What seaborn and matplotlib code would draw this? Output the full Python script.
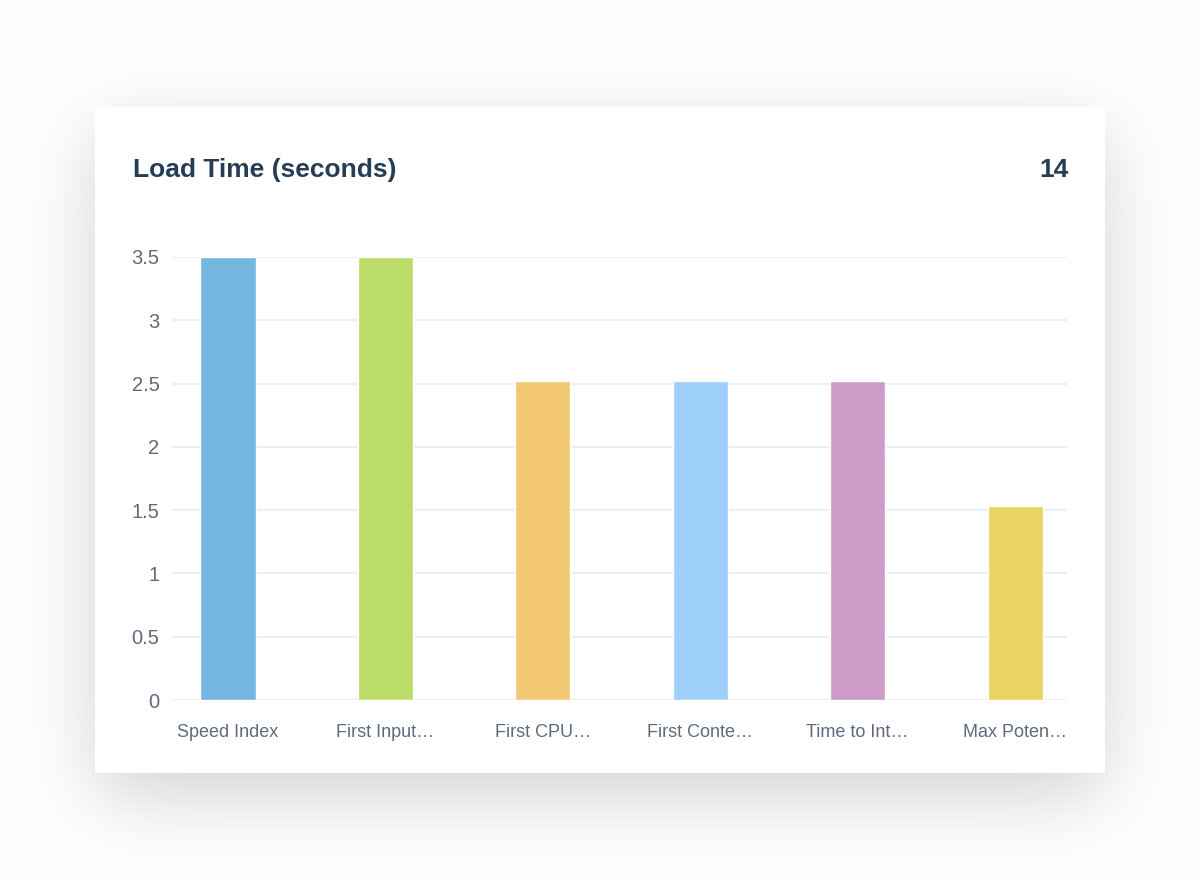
import math
import numpy as np
import pandas as pd
import matplotlib
matplotlib.use("Agg")
import matplotlib.pyplot as plt
from matplotlib.patches import FancyBboxPatch
import seaborn as sns

# ---- data ----
categories = ["Speed Index", "First Input…", "First CPU…", "First Conte…",
              "Time to Int…", "Max Poten…"]
values = [3.5, 3.5, 2.52, 2.52, 2.52, 1.53]
yticks = [0, 0.5, 1, 1.5, 2, 2.5, 3, 3.5]
ytick_labels = ["0", "0.5", "1", "1.5", "2", "2.5", "3", "3.5"]
title = "Load Time (seconds)"
total_label = "14"
palette = ["#74B6E0", "#BCDC6A", "#F2C772", "#9ED0FB", "#CF9BC8", "#E9D362"]

sns.set_theme(style="white")
plt.rcParams["font.family"] = ["Liberation Sans", "DejaVu Sans"]

W, H = 1200, 880
fig = plt.figure(figsize=(W / 100, H / 100), dpi=100, facecolor="white")

# ---- soft shadow behind the card ----
bg = fig.add_axes([0, 0, 1, 1], zorder=0)
bg.set_axis_off()
erf = np.vectorize(math.erf)
xs = np.arange(W) + 0.5
ys = np.arange(H) + 0.5
cx0, cx1, cy0, cy1 = 95, 1105, 107 + 24, 773 + 24
s = 38.0
fx = 0.5 * (erf((xs - cx0) / (s * math.sqrt(2))) - erf((xs - cx1) / (s * math.sqrt(2))))
fy = 0.5 * (erf((ys - cy0) / (s * math.sqrt(2))) - erf((ys - cy1) / (s * math.sqrt(2))))
shadow = np.outer(fy, fx) * 0.17
img = np.ones((H, W, 3)) * (1 - shadow[..., None])
bg.imshow(img, extent=[0, W, H, 0], aspect="auto", interpolation="bilinear")
bg.set_xlim(0, W)
bg.set_ylim(H, 0)

card = FancyBboxPatch((95 / W, 1 - 773 / H), (1105 - 95) / W, (773 - 107) / H,
                      boxstyle="round,pad=0,rounding_size=0.002",
                      transform=fig.transFigure, facecolor="white",
                      edgecolor="none", zorder=1)
fig.patches.append(card)

# ---- chart ----
ax = fig.add_axes([172 / W, 1 - 700 / H, (1067 - 172) / W, (700 - 257) / H], zorder=2)
ax.set_facecolor("none")
df = pd.DataFrame({"metric": categories, "value": values})
sns.barplot(data=df, x="metric", y="value", hue="metric", palette=palette,
            legend=False, width=0.35, saturation=1, ax=ax, zorder=3)

ax.set_ylim(0, 3.5)
ax.set_xlim(-0.356, 5.33)
ax.set_yticks(yticks)
ax.set_yticklabels(ytick_labels)
ax.set_xlabel("")
ax.set_ylabel("")
for sp in ax.spines.values():
    sp.set_visible(False)
ax.grid(axis="y", color="#EDEDF2", linewidth=1.5, zorder=0)
ax.set_axisbelow(True)
ax.tick_params(axis="y", length=0, pad=9, labelsize=14.5, labelcolor="#5F6B7A")
ax.tick_params(axis="x", length=0, pad=17, labelsize=13, labelcolor="#5F6B7A")

fig.text(133 / W, 1 - 170 / H, title, fontsize=19, fontweight="bold",
         color="#253D55", ha="left", va="center", zorder=5)
fig.text(1069 / W, 1 - 170 / H, total_label, fontsize=19, fontweight="bold",
         color="#253D55", ha="right", va="center", zorder=5)

fig.savefig("out.png", dpi=100, facecolor="white")
